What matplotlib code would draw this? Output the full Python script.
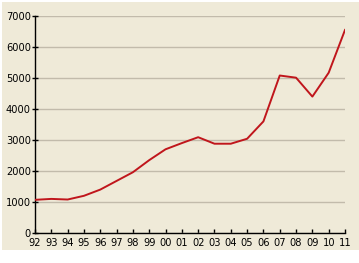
import matplotlib
matplotlib.use("Agg")
import matplotlib.pyplot as plt
from matplotlib.patches import Rectangle

years = ["92", "93", "94", "95", "96", "97", "98", "99", "00", "01",
         "02", "03", "04", "05", "06", "07", "08", "09", "10", "11"]
values = [1070, 1100, 1080, 1200, 1400, 1680, 1960, 2350, 2700, 2900,
          3090, 2880, 2880, 3040, 3600, 5080, 5010, 4400, 5170, 6550]
yticks = [0, 1000, 2000, 3000, 4000, 5000, 6000, 7000]

bg = "#efead8"
fig = plt.figure(figsize=(3.59, 2.63), dpi=100)
fig.patch.set_facecolor("white")
rect = Rectangle((2/359, 1-250/263), 1, (250-2)/263,
                 transform=fig.transFigure, facecolor=bg,
                 edgecolor="none", zorder=-10)
fig.add_artist(rect)
ax = fig.add_axes([35/359, 1-233/263, (345-35)/359, (233-16)/263])
ax.set_zorder(5)
ax.set_facecolor(bg)
x = list(range(len(years)))
ax.plot(x, values, color="#c0161c", lw=1.4, zorder=3)
ax.set_xlim(0, len(years)-1)
ax.set_ylim(0, 7000)
ax.set_yticks(yticks)
ax.set_yticklabels([str(v) for v in yticks])
ax.set_xticks(x)
ax.set_xticklabels(years)
ax.grid(axis="y", color="#c2bbab", lw=1)
ax.set_axisbelow(True)
for s in ["top", "right"]:
    ax.spines[s].set_visible(False)
for s in ["left", "bottom"]:
    ax.spines[s].set_color("black")
    ax.spines[s].set_linewidth(1)
ax.tick_params(axis="y", direction="inout", length=4, width=1, labelsize=7.1, pad=1)
ax.tick_params(axis="x", direction="in", length=3, width=1, labelsize=7.1, pad=3.5)
for t in ax.get_xticklabels() + ax.get_yticklabels():
    t.set_family("DejaVu Sans")
fig.savefig("out.png", dpi=100, facecolor="white")
